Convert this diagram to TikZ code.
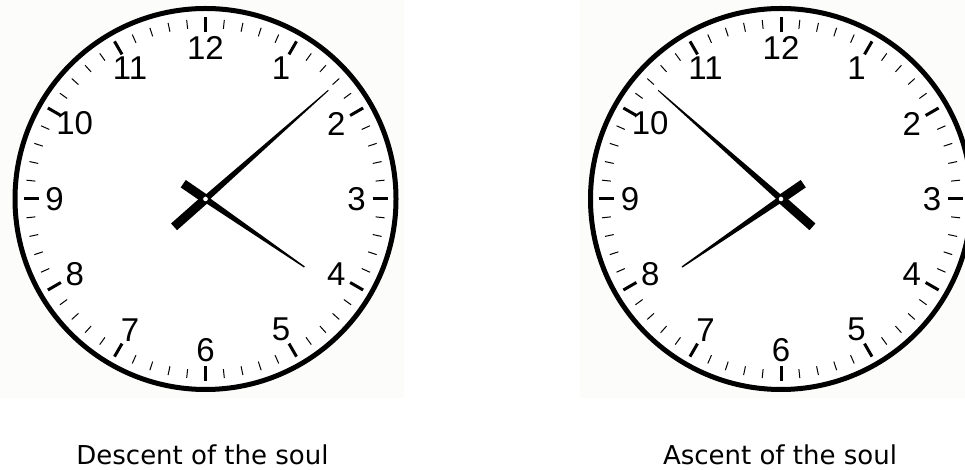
\documentclass[tikz,border=0pt]{standalone}
\usepackage{fontspec}
\setmainfont{Liberation Sans}
\newfontfamily\capfont{DejaVu Sans}
\usepackage{tikz}
\usetikzlibrary{calc}
\definecolor{panel}{HTML}{FCFCFA}

\begin{document}
\begin{tikzpicture}[x=1pt,y=1pt,
  numeral/.style={font=\fontsize{33}{33}\selectfont,inner sep=0pt},
  caption/.style={font=\capfont\fontsize{26}{26}\selectfont,anchor=base,inner sep=0pt}]
  \useasboundingbox (0,0) rectangle (965,470);
  \fill[panel] (0,72) rectangle (404,470);
  \fill[panel] (580,72) rectangle (965,470);
  \coordinate (left) at (205.5,271);
  \coordinate (right) at (781,271);
  % dials
  \foreach \c in {left,right}{
    \fill[white] (\c) circle (190.5);
    \draw[line width=5pt] (\c) circle (190.5);
    \foreach \m in {0,...,59}
      \draw[line width=1pt] ($(\c)+(90-6*\m:171)$) -- ($(\c)+(90-6*\m:180)$);
    \foreach \h in {1,...,12}{
      \draw[line width=3pt] ($(\c)+(90-30*\h:167)$) -- ($(\c)+(90-30*\h:182)$);
      \node[numeral] (\c\h) at ($(\c)+(90-30*\h:151)$) {\h};
    }
  }
  % hands, 4:08
  \begin{scope}[shift={(left)}]
    \fill[rotate=41.5] (-42,-4.5) -- (-42,4.5) -- (0,4.5) -- (0,3.2) -- (164,0.5) -- (164,-0.5) -- (0,-3.2) -- (0,-4.5) -- cycle;
    \fill[rotate=-34.5] (-27,-4.5) -- (-27,4.5) -- (0,4.5) -- (0,3.2) -- (120,0.7) -- (120,-0.7) -- (0,-3.2) -- (0,-4.5) -- cycle;
    \filldraw[fill=white,line width=1pt] (0,0) circle (3);
  \end{scope}
  % hands, 7:52
  \begin{scope}[shift={(right)}]
    \fill[rotate=138.5] (-42,-4.5) -- (-42,4.5) -- (0,4.5) -- (0,3.2) -- (164,0.5) -- (164,-0.5) -- (0,-3.2) -- (0,-4.5) -- cycle;
    \fill[rotate=214.5] (-27,-4.5) -- (-27,4.5) -- (0,4.5) -- (0,3.2) -- (120,0.7) -- (120,-0.7) -- (0,-3.2) -- (0,-4.5) -- cycle;
    \filldraw[fill=white,line width=1pt] (0,0) circle (3);
  \end{scope}
  \node[caption] (descent) at (202.5,5.5) {Descent of the soul};
  \node[caption] (ascent) at (780,5.5) {Ascent of the soul};
\end{tikzpicture}
\end{document}
